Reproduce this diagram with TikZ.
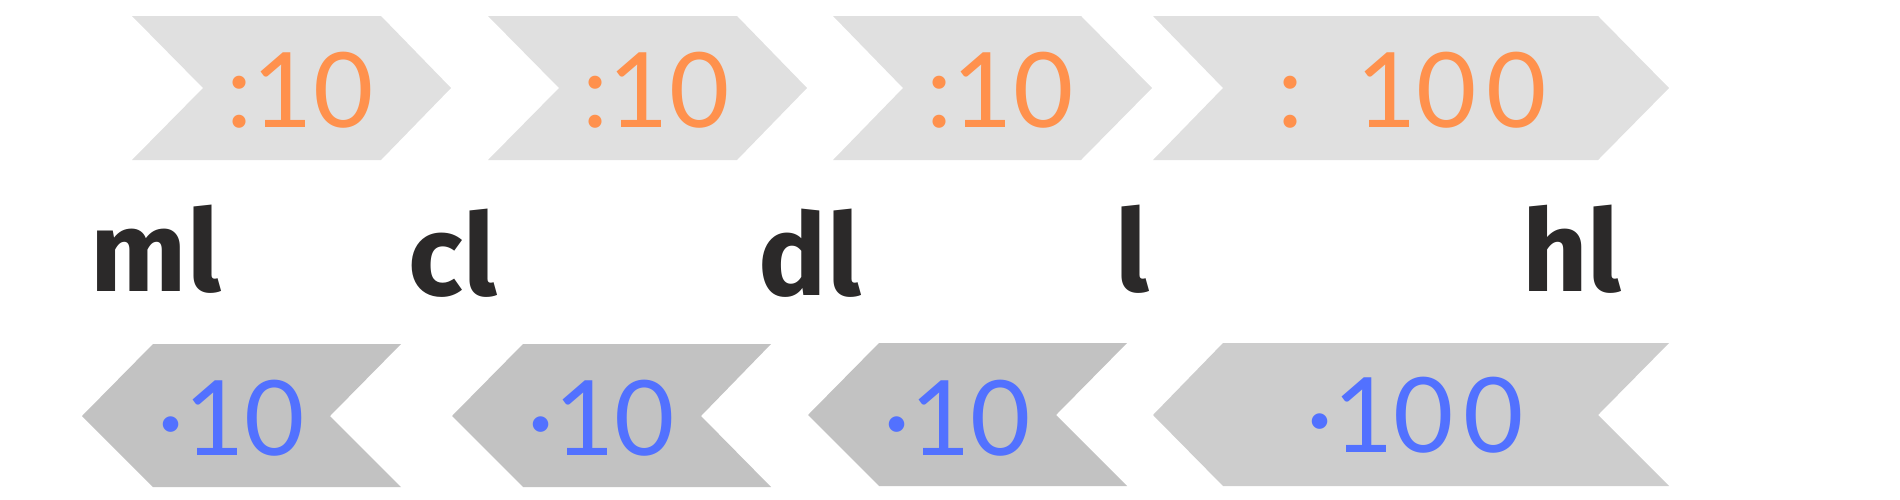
\documentclass[tikz,border=0pt]{standalone}
\usepackage{fontspec}
\setmainfont{Fira Sans}
\newfontfamily\numfont{Lato}
\usepackage{tikz}

\definecolor{topgray}{HTML}{E0E0E0}
\definecolor{botgray}{HTML}{C2C2C2}
\definecolor{botlight}{HTML}{CDCDCD}
\definecolor{divorange}{HTML}{FF914D}
\definecolor{mulblue}{HTML}{5271FF}
\definecolor{unitdark}{HTML}{2B2929}

\tikzset{
  divtext/.style={text=divorange, font=\numfont\fontsize{29.6}{30}\selectfont, inner sep=0pt, anchor=base},
  multext/.style={text=mulblue, font=\numfont\fontsize{29.6}{30}\selectfont, inner sep=0pt, anchor=base},
  unitlabel/.style={text=unitdark, font=\bfseries\fontsize{32.4}{33}\selectfont, inner sep=0pt, anchor=base},
}

\begin{document}
\begin{tikzpicture}[x=0.01cm, y=-0.01cm]
    \useasboundingbox (0,0) rectangle (1900,500);
    % top row, pointing right
    \fill[topgray] (132,16) -- (381,16) -- (451,88) -- (381,160) -- (132,160) -- (203,88) -- cycle;
    \fill[topgray] (488,16) -- (737,16) -- (807,88) -- (737,160) -- (488,160) -- (559,88) -- cycle;
    \fill[topgray] (833,16) -- (1081,16) -- (1152,88) -- (1081,160) -- (833,160) -- (903,88) -- cycle;
    \fill[topgray] (1153,16) -- (1598,16) -- (1669,88) -- (1598,160) -- (1153,160) -- (1223,88) -- cycle;
    % bottom row, pointing left
    \fill[botgray] (82,416) -- (153,344) -- (401,344) -- (330,416) -- (401,487) -- (153,487) -- cycle;
    \fill[botgray] (452,416) -- (523,344) -- (771,344) -- (701,416) -- (771,487) -- (523,487) -- cycle;
    \fill[botgray] (808,415) -- (879,343) -- (1127,343) -- (1056,415) -- (1127,486) -- (879,486) -- cycle;
    \fill[botlight] (1153,415) -- (1223,343) -- (1669,343) -- (1598,415) -- (1669,486) -- (1223,486) -- cycle;

    \node[divtext] (div1) at (300,127) {:10};
    \node[divtext] (div2) at (656,127) {:10};
    \node[divtext] (div3) at (1000,127) {:10};
    \node[divtext] (div4) at (1412,127) {:\hspace{5pt} 10\kern2.5pt 0};

    \node[unitlabel] (ml) at (156,291) {ml};
    \node[unitlabel] (cl) at (453,295) {cl};
    \node[unitlabel] (dl) at (810,295) {dl};
    \node[unitlabel] (l) at (1132,291) {l};
    \node[unitlabel] (hl) at (1572,291) {hl};

    \node[multext] (mul1) at (231,455) {·10};
    \node[multext] (mul2) at (601,455) {·10};
    \node[multext] (mul3) at (957,455) {·10};
    \node[multext] (mul4) at (1415,452) {·10\kern2.5pt 0};
\end{tikzpicture}
\end{document}
